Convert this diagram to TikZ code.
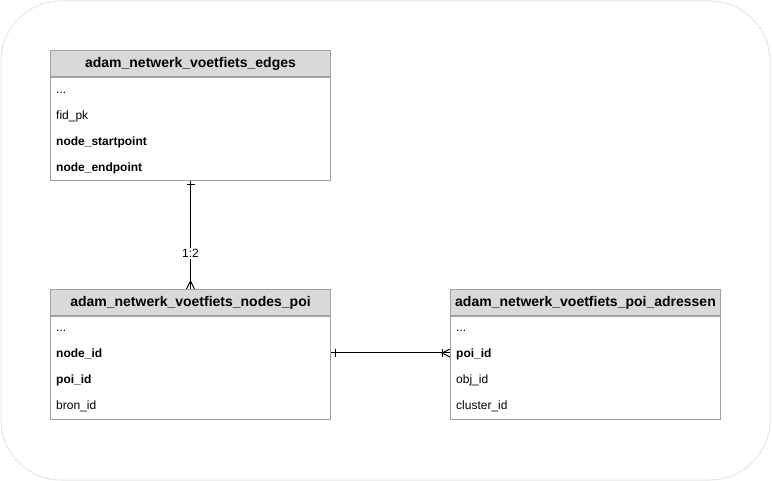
\documentclass[tikz,border=0pt]{standalone}
\usepackage{fontspec}
\setmainfont{Liberation Sans}
\usetikzlibrary{calc}
\definecolor{hdrfill}{HTML}{D9D9D9}
\definecolor{tblline}{HTML}{A0A0A0}
\definecolor{frameline}{HTML}{E6E6E6}
\begin{document}
\begin{tikzpicture}[x=1pt,y=-1pt,
  hdr/.style={draw=tblline, fill=hdrfill, line width=1pt, minimum width=280pt, minimum height=26pt, inner sep=0pt, anchor=north west, font=\fontsize{14}{16}\selectfont\bfseries},
  body/.style={draw=tblline, fill=white, line width=1pt, minimum width=280pt, minimum height=103pt, inner sep=0pt, anchor=north},
  fld/.style={anchor=base west, inner sep=0pt, font=\fontsize{12}{14}\selectfont},
  bfld/.style={fld, font=\fontsize{12}{14}\selectfont\bfseries},
  conn/.style={line width=1pt, black},
  lbl/.style={fill=white, inner sep=1pt, font=\fontsize{12}{14}\selectfont}]
\useasboundingbox (0,0) rectangle (772,481);
\draw[frameline, line width=1pt, rounded corners=60pt] (1,1) rectangle (770,480);

% table 1
\node[hdr] (t1h) at (50,50) {adam\_netwerk\_voetfiets\_edges};
\node[body] (t1b) at (t1h.south) {};
\node[fld] (t1r1) at (56,93.5) {...};
\node[fld] (t1r2) at (56,119.5) {fid\_pk};
\node[bfld] (t1r3) at (56,145.5) {node\_startpoint};
\node[bfld] (t1r4) at (56,171.5) {node\_endpoint};

% table 2
\node[hdr] (t2h) at (50,289) {adam\_netwerk\_voetfiets\_nodes\_poi};
\node[body] (t2b) at (t2h.south) {};
\node[fld] (t2r1) at (56,331.5) {...};
\node[bfld] (t2r2) at (56,357.5) {node\_id};
\node[bfld] (t2r3) at (56,383.5) {poi\_id};
\node[fld] (t2r4) at (56,409.5) {bron\_id};

% table 3
\node[hdr, minimum width=270pt] (t3h) at (450,289) {adam\_netwerk\_voetfiets\_poi\_adressen};
\node[body, minimum width=270pt] (t3b) at (t3h.south) {};
\node[fld] (t3r1) at (456,331.5) {...};
\node[bfld] (t3r2) at (456,357.5) {poi\_id};
\node[fld] (t3r3) at (456,383.5) {obj\_id};
\node[fld] (t3r4) at (456,409.5) {cluster\_id};

% connector 1 (edges -> nodes_poi)
\coordinate (c1a) at (t1b.south);
\coordinate (c1b) at (t2h.north);
\draw[conn] (c1a) -- (c1b) node[lbl, pos=0.67] {1:2};
\draw[conn] ($(c1a)+(-4,4)$) -- ($(c1a)+(4,4)$);
\draw[conn] ($(c1b)+(-4,0)$) -- ($(c1b)+(0,-8)$) -- ($(c1b)+(4,0)$);

% connector 2 (nodes_poi -> poi_adressen)
\coordinate (r2mid) at ($(t2r2.base)+(0,-4.5)$);
\coordinate (c2a) at (t2b.east |- r2mid);
\coordinate (c2b) at (t3b.west |- r2mid);
\draw[conn] (c2a) -- (c2b);
\draw[conn] ($(c2a)+(4,-4)$) -- ($(c2a)+(4,4)$);
\draw[conn] ($(c2b)+(-8,-4)$) -- ($(c2b)+(-8,4)$);
\draw[conn] ($(c2b)+(0,-4)$) -- ($(c2b)+(-8,0)$) -- ($(c2b)+(0,4)$);
\end{tikzpicture}
\end{document}
